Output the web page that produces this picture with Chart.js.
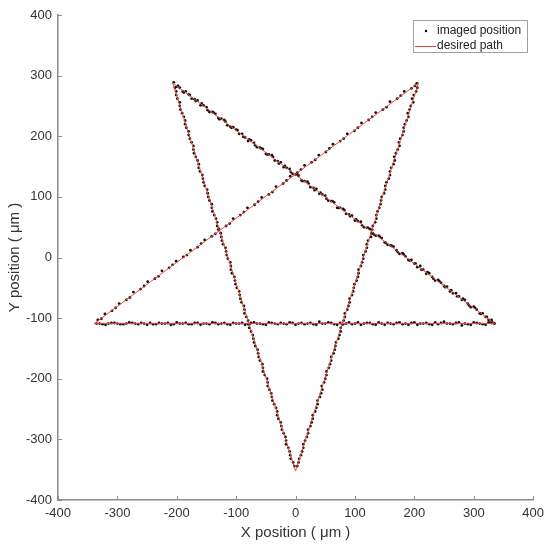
<!DOCTYPE html>
<html>
<head>
<meta charset="utf-8">
<script src="https://cdn.jsdelivr.net/npm/chart.js@4/dist/chart.umd.min.js"></script>
<style>
  html, body { margin: 0; padding: 0; background: #fff; }
  #wrap { width: 550px; height: 548px; position: relative; }
</style>
</head>
<body>
<div id="wrap"><canvas id="starChart"></canvas></div>
<script>
'use strict';

// desired path (pentagram, drawn in this order)
const pathX = [-207, 335, -339, 207, 0, -207];
const pathY = [288, -109, -109, 288, -352, 288];

// imaged positions
const imagedUpperLeftToRight = [
  [-205,289],[-200,282],[-195,280],[-190,274],[-185,274],[-180,269],[-175,262],[-170,261],
  [-165,259],[-160,251],[-155,251],[-150,248],[-145,240],[-140,240],[-135,237],[-130,230],
  [-125,229],[-120,227],[-115,218],[-110,216],[-105,215],[-100,211],[-95,204],[-90,204],
  [-85,198],[-80,192],[-75,193],[-70,189],[-65,182],[-60,181],[-55,179],[-50,171],
  [-45,170],[-40,169],[-35,160],[-30,159],[-25,157],[-20,149],[-15,148],[-10,146],
  [-5,138],[0,137],[5,135],[10,127],[15,126],[20,125],[25,116],[30,115],
  [35,113],[40,105],[45,104],[50,102],[55,94],[60,93],[65,91],[70,82],
  [75,82],[80,80],[85,72],[90,71],[95,69],[100,61],[105,60],[110,59],
  [115,50],[120,49],[125,47],[130,40],[135,36],[140,36],[145,32],[150,25],
  [155,21],[160,20],[165,18],[170,12],[175,6],[180,7],[185,2],[190,-4],
  [195,-4],[200,-10],[205,-16],[210,-14],[215,-20],[220,-27],[225,-26],[230,-32],
  [235,-38],[240,-37],[245,-42],[250,-47],[255,-48],[260,-56],[265,-59],[270,-59],
  [275,-64],[280,-70],[285,-70],[290,-76],[295,-82],[300,-81],[305,-86],[310,-92],
  [315,-92],[320,-98],[325,-103],[330,-103],[333,-108],
  [-198,283],[-188,272],[-178,268],[-168,258],[-158,254],[-148,243],[-138,239],[-128,228],
  [-118,224],[-108,214],[-98,210],[-88,199],[-78,195],[-68,185],[-58,180],[-48,170],
  [-38,166],[-28,155],[-18,151],[-8,141],[2,137],[12,126],[22,122],[32,111],
  [42,107],[52,97],[62,93],[72,82],[82,78],[92,68],[102,63],[112,53],
  [122,49],[132,38],[142,34],[152,24],[162,19],[172,9],[182,5],[192,-5],
  [202,-10],[212,-20],[222,-24],[232,-35],[242,-39],[252,-49],[262,-54],[272,-64],
  [282,-68],[292,-79],[302,-83],[312,-93],[322,-98],[330,-106]
];

const imagedHorizontal = [
  [330,-108],[320,-111],[310,-109],[300,-107],[290,-110],[280,-112],[270,-108],[260,-109],
  [250,-106],[240,-110],[230,-111],[220,-108],[210,-109],[200,-107],[190,-111],[180,-110],
  [170,-108],[160,-109],[150,-111],[140,-107],[130,-110],[120,-108],[110,-111],[100,-109],
  [90,-107],[80,-110],[70,-111],[60,-108],[50,-109],[40,-106],[30,-110],[20,-109],
  [10,-108],[0,-111],[-10,-107],[-20,-109],[-30,-110],[-40,-108],[-50,-111],[-60,-109],
  [-70,-107],[-80,-110],[-90,-108],[-100,-109],[-110,-111],[-120,-108],[-130,-110],[-140,-107],
  [-150,-109],[-160,-111],[-170,-108],[-180,-110],[-190,-109],[-200,-107],[-210,-111],[-220,-109],
  [-230,-108],[-240,-110],[-250,-111],[-260,-108],[-270,-109],[-280,-107],[-290,-110],[-300,-109],
  [-310,-108],[-320,-111],[-330,-109],
  [335,-109],[325,-107],[315,-110],[305,-108],[295,-111],[285,-109],[275,-107],[265,-110],
  [255,-109],[245,-108],[235,-107],[225,-110],[215,-109],[205,-111],[195,-108],[185,-109],
  [175,-107],[165,-110],[155,-108],[145,-109],[135,-111],[125,-108],[115,-109],[105,-107],
  [95,-110],[85,-109],[75,-108],[65,-110],[55,-107],[45,-109],[35,-111],[25,-108],
  [15,-110],[5,-109],[-5,-108],[-15,-110],[-25,-108],[-35,-109],[-45,-107],[-55,-110],
  [-65,-109],[-75,-108],[-85,-111],[-95,-109],[-105,-108],[-115,-110],[-125,-109],[-135,-108],
  [-145,-110],[-155,-109],[-165,-108],[-175,-110],[-185,-108],[-195,-109],[-205,-110],[-215,-108],
  [-225,-109],[-235,-110],[-245,-108],[-255,-109],[-265,-110],[-275,-108],[-285,-109],[-295,-110],
  [-305,-108],[-315,-109],[-325,-110],[-335,-109]
];

const imagedLowerLeftToUpperRight = [
  [-333,-103],[-321,-93],[-309,-88],[-297,-76],[-285,-70],[-273,-57],[-261,-52],[-249,-40],
  [-237,-35],[-225,-22],[-213,-17],[-201,-6],[-189,1],[-177,12],[-165,17],[-153,29],
  [-141,35],[-129,47],[-117,52],[-105,64],[-93,70],[-81,82],[-69,87],[-57,99],
  [-45,104],[-33,117],[-21,122],[-9,134],[3,140],[15,152],[27,157],[39,169],
  [51,174],[63,187],[75,192],[87,204],[99,209],[111,222],[123,227],[135,239],
  [147,244],[159,257],[171,262],[183,274],[195,279],[204,287],
  [-327,-101],[-303,-83],[-279,-66],[-255,-47],[-231,-31],[-207,-12],[-183,4],[-159,23],
  [-135,39],[-111,56],[-87,75],[-63,92],[-39,108],[-15,127],[9,145],[33,161],
  [57,180],[81,196],[105,214],[129,232],[153,248],[177,267],[201,283]
];

const imagedRightLeg = [
  [205,280],[199,268],[198,256],[192,244],[190,232],[184,220],[182,208],[176,196],
  [175,184],[169,172],[167,160],[161,148],[159,136],[153,124],[151,112],[145,100],
  [143,88],[138,76],[136,64],[130,52],[128,40],[122,28],[120,16],[114,4],
  [112,-8],[106,-20],[105,-32],[99,-44],[97,-56],[91,-68],[89,-80],[83,-92],
  [81,-104],[76,-116],[74,-128],[68,-140],[66,-152],[60,-164],[58,-176],[52,-188],
  [50,-200],[44,-212],[43,-224],[37,-236],[35,-248],[29,-260],[27,-272],[21,-284],
  [19,-296],[13,-308],[11,-320],[6,-332],[3,-344],
  [203,274],[196,262],[194,250],[189,238],[187,226],[182,214],[180,202],[174,190],
  [172,178],[166,166],[165,154],[159,142],[157,130],[151,118],[149,106],[144,94],
  [141,82],[136,70],[134,58],[129,46],[127,34],[120,22],[118,10],[114,-2],
  [110,-14],[106,-26],[103,-38],[98,-50],[95,-62],[91,-74],[87,-86],[83,-98],
  [79,-110],[76,-122],[72,-134],[67,-146],[64,-158],[60,-170],[56,-182],[52,-194],
  [48,-206],[45,-218],[41,-230],[37,-242],[33,-254],[29,-266],[25,-278],[21,-290],
  [16,-302],[13,-314],[9,-326],[5,-338]
];

const imagedLeftLeg = [
  [-203,280],[-201,268],[-195,256],[-194,244],[-188,232],[-186,220],[-180,208],[-178,196],
  [-172,184],[-171,172],[-165,160],[-163,148],[-157,136],[-155,124],[-149,112],[-147,100],
  [-141,88],[-140,76],[-134,64],[-132,52],[-126,40],[-124,28],[-118,16],[-116,4],
  [-110,-8],[-109,-20],[-103,-32],[-101,-44],[-95,-56],[-93,-68],[-87,-80],[-86,-92],
  [-80,-104],[-78,-116],[-72,-128],[-70,-140],[-64,-152],[-62,-164],[-56,-176],[-55,-188],
  [-48,-200],[-47,-212],[-41,-224],[-39,-236],[-33,-248],[-31,-260],[-25,-272],[-23,-284],
  [-17,-296],[-16,-308],[-10,-320],[-8,-332],[-2,-344],
  [-201,274],[-199,262],[-195,250],[-191,238],[-186,226],[-184,214],[-180,202],[-175,190],
  [-172,178],[-168,166],[-163,154],[-161,142],[-156,130],[-153,118],[-148,106],[-145,94],
  [-141,82],[-137,70],[-132,58],[-130,46],[-125,34],[-122,22],[-117,10],[-114,-2],
  [-109,-14],[-107,-26],[-102,-38],[-99,-50],[-94,-62],[-91,-74],[-86,-86],[-83,-98],
  [-78,-110],[-75,-122],[-71,-134],[-68,-146],[-63,-158],[-60,-170],[-55,-182],[-52,-194],
  [-47,-206],[-44,-218],[-40,-230],[-36,-242],[-31,-254],[-29,-266],[-24,-278],[-20,-290],
  [-16,-302],[-12,-314],[-9,-326],[-4,-338]
];

const axisTicks = [-400, -300, -200, -100, 0, 100, 200, 300, 400];


const FONT = '"Liberation Sans", Arial, Helvetica, sans-serif';
const AXIS_GREY = '#8c8c8c';
const TEXT_GREY = '#333333';
const PATH_RED = '#e8473c';

const imagedPoints = []
  .concat(imagedUpperLeftToRight, imagedHorizontal, imagedLowerLeftToUpperRight, imagedRightLeg, imagedLeftLeg)
  .map(p => ({ x: p[0], y: p[1] }));

const pathPoints = pathX.map((x, i) => ({ x: x, y: pathY[i] }));


// MATLAB style ticks pointing into the axes
const inwardTicks = {
  id: 'inwardTicks',
  afterDraw(chart) {
    const { ctx, scales: { x, y } } = chart;
    ctx.save();
    ctx.strokeStyle = AXIS_GREY;
    ctx.lineWidth = 1;
    axisTicks.forEach(v => {
      const px = Math.round(x.getPixelForValue(v)) + 0.5;
      ctx.beginPath();
      ctx.moveTo(px, x.top);
      ctx.lineTo(px, x.top - 4);
      ctx.stroke();
      const py = Math.round(y.getPixelForValue(v)) + 0.5;
      ctx.beginPath();
      ctx.moveTo(y.right, py);
      ctx.lineTo(y.right + 4, py);
      ctx.stroke();
    });
    ctx.restore();
  }
};

// legend box inside the top right corner
const boxLegend = {
  id: 'boxLegend',
  afterDraw(chart) {
    const ctx = chart.ctx;
    const ds = chart.data.datasets;
    const left = 413, top = 20, w = 114, h = 32;
    ctx.save();
    ctx.fillStyle = '#fff';
    ctx.fillRect(left, top, w, h);
    ctx.strokeStyle = '#a0a0a0';
    ctx.lineWidth = 1;
    ctx.strokeRect(left + 0.5, top + 0.5, w, h);

    ctx.fillStyle = '#000';
    ctx.beginPath();
    ctx.arc(426, 31, 1.2, 0, Math.PI * 2);
    ctx.fill();

    ctx.strokeStyle = PATH_RED;
    ctx.beginPath();
    ctx.moveTo(415, 46.5);
    ctx.lineTo(436, 46.5);
    ctx.stroke();

    ctx.fillStyle = '#222';
    ctx.font = '12px ' + FONT;
    ctx.textBaseline = 'middle';
    ctx.fillText(ds[0].label, 437, 31);
    ctx.fillText(ds[1].label, 437, 46);
    ctx.restore();
  }
};


document.addEventListener('DOMContentLoaded', () => {
  const ctx = document.getElementById('starChart').getContext('2d');

  new Chart(ctx, {
    type: 'scatter',
    data: {
      datasets: [{
        label: 'imaged position',
        data: imagedPoints,
        pointRadius: 1.4,
        pointHoverRadius: 1.4,
        pointBorderWidth: 0,
        backgroundColor: '#111',
        borderColor: '#111',
        order: 2
      }, {
        label: 'desired path',
        data: pathPoints,
        showLine: true,
        pointRadius: 0,
        borderColor: PATH_RED,
        borderWidth: 1,
        tension: 0,
        order: 1
      }]
    },
    options: {
      responsive: true,
      maintainAspectRatio: false,
      animation: false,
      layout: { padding: { top: 15, right: 16, left: 0, bottom: 0 } },
      plugins: {
        legend: { display: false },
        tooltip: { enabled: false }
      },
      scales: {
        x: {
          type: 'linear',
          min: -400,
          max: 400,
          afterFit: s => { s.height = 48; },
          afterBuildTicks: s => { s.ticks = axisTicks.map(v => ({ value: v })); },
          grid: { display: false, drawTicks: false, tickLength: 0 },
          border: { display: true, color: AXIS_GREY, width: 1.5 },
          ticks: { color: TEXT_GREY, padding: 6, maxRotation: 0, font: { family: FONT, size: 13 } },
          title: {
            display: true,
            text: 'X position ( μm )',
            color: TEXT_GREY,
            font: { family: FONT, size: 15 },
            padding: { top: 0, bottom: 6 }
          }
        },
        y: {
          type: 'linear',
          min: -400,
          max: 400,
          afterFit: s => { s.width = 58; },
          afterBuildTicks: s => { s.ticks = axisTicks.map(v => ({ value: v })); },
          grid: { display: false, drawTicks: false, tickLength: 0 },
          border: { display: true, color: AXIS_GREY, width: 1.5 },
          ticks: { color: TEXT_GREY, padding: 6, font: { family: FONT, size: 13 } },
          title: {
            display: true,
            text: 'Y position ( μm )',
            color: TEXT_GREY,
            font: { family: FONT, size: 15 },
            padding: { top: 6, bottom: 0 }
          }
        }
      }
    },
    plugins: [inwardTicks, boxLegend]
  });
});
</script>
</body>
</html>
